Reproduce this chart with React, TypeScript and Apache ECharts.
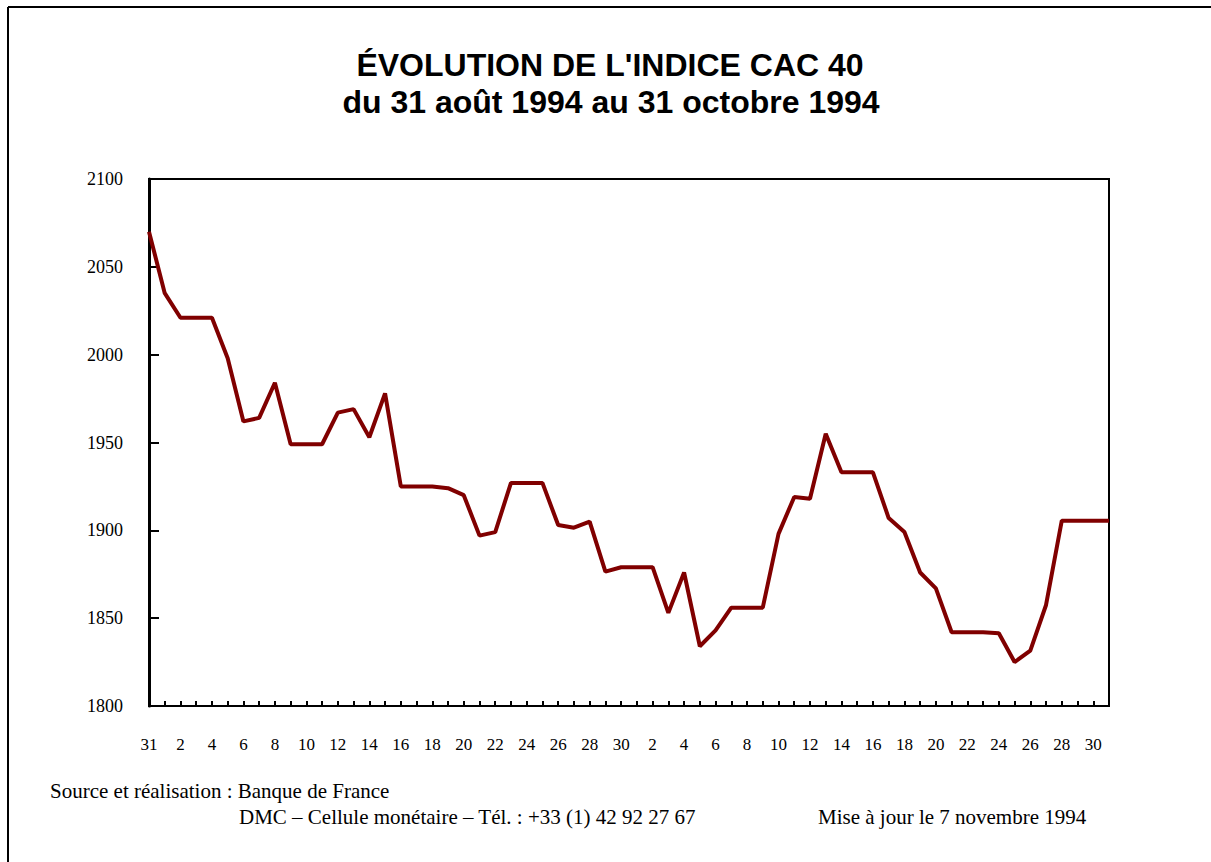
import React, { useEffect, useRef } from "react";
import * as echarts from "echarts";

const dayLabels: string[] = [
  "31",
  "1", "2", "3", "4", "5", "6", "7", "8", "9", "10",
  "11", "12", "13", "14", "15", "16", "17", "18", "19", "20",
  "21", "22", "23", "24", "25", "26", "27", "28", "29", "30",
  "1", "2", "3", "4", "5", "6", "7", "8", "9", "10",
  "11", "12", "13", "14", "15", "16", "17", "18", "19", "20",
  "21", "22", "23", "24", "25", "26", "27", "28", "29", "30", "31",
];

const cacValues: number[] = [
  2070,
  2035, 2021, 2021, 2021, 1998, 1962, 1964, 1984, 1949, 1949,
  1949, 1967, 1969, 1953, 1978, 1925, 1925, 1925, 1924, 1920,
  1897, 1899, 1927, 1927, 1927, 1903, 1901.5, 1905, 1876.5, 1879,
  1879, 1879, 1853, 1876, 1834, 1843, 1856, 1856, 1856, 1898,
  1919, 1918, 1955, 1933, 1933, 1933, 1907, 1899, 1876, 1867,
  1842, 1842, 1842, 1841.4, 1825, 1831.5, 1857.5, 1905.5, 1905.5, 1905.5, 1905.5,
];

const yMin = 1800;
const yMax = 2100;
const yStep = 50;

const titleLine1 = "ÉVOLUTION DE L'INDICE CAC 40";
const titleLine2 = "du 31 août 1994 au 31 octobre 1994";
const sourceLine = "Source et réalisation : Banque de France";
const contactLine = "DMC – Cellule monétaire – Tél. : +33 (1) 42 92 27 67";
const updateLine = "Mise à jour le 7 novembre 1994";

const serif = "'Liberation Serif', 'Times New Roman', serif";
const sans = "'Liberation Sans', Arial, sans-serif";

export default function App() {
  const ref = useRef<HTMLDivElement>(null);

  useEffect(() => {
    if (!ref.current) return;
    const chart = echarts.init(ref.current, null, { renderer: "svg" });
    chart.setOption({
      animation: false,
      backgroundColor: "#ffffff",
      grid: {
        left: 149,
        right: 102,
        top: 179,
        bottom: 156,
        show: true,
        borderColor: "#000",
        borderWidth: 2,
      },
      xAxis: {
        type: "category",
        data: dayLabels,
        boundaryGap: false,
        axisLine: { lineStyle: { color: "#000", width: 2 } },
        axisTick: { inside: true, length: 5, interval: 0, lineStyle: { color: "#000", width: 2 } },
        axisLabel: {
          interval: 1,
          margin: 30,
          color: "#000",
          fontFamily: serif,
          fontSize: 17,
        },
        splitLine: { show: false },
      },
      yAxis: {
        type: "value",
        min: yMin,
        max: yMax,
        interval: yStep,
        axisLine: { show: true, lineStyle: { color: "#000", width: 3 } },
        axisTick: { show: true, inside: true, length: 10, lineStyle: { color: "#000", width: 2 } },
        axisLabel: {
          margin: 26,
          color: "#000",
          fontFamily: serif,
          fontSize: 18,
          formatter: (v: number) => String(v),
        },
        splitLine: { show: false },
      },
      series: [
        {
          type: "line",
          data: cacValues,
          symbol: "none",
          lineStyle: { color: "#800000", width: 4 },
          itemStyle: { color: "#800000" },
        },
      ],
      graphic: [
        { type: "line", shape: { x1: 8, y1: 7, x2: 8, y2: 862 }, style: { stroke: "#000", lineWidth: 2 } },
        { type: "line", shape: { x1: 8, y1: 7, x2: 1211, y2: 7 }, style: { stroke: "#000", lineWidth: 2 } },
        {
          type: "text",
          x: 610,
          y: 65,
          style: {
            text: titleLine1,
            fill: "#000",
            font: `bold 32px ${sans}`,
            textAlign: "center",
            textVerticalAlign: "middle",
          },
        },
        {
          type: "text",
          x: 611,
          y: 102,
          style: {
            text: titleLine2,
            fill: "#000",
            font: `bold 32px ${sans}`,
            textAlign: "center",
            textVerticalAlign: "middle",
          },
        },
        {
          type: "text",
          x: 50,
          y: 791,
          style: { text: sourceLine, fill: "#000", font: `21px ${serif}`, textAlign: "left", textVerticalAlign: "middle" },
        },
        {
          type: "text",
          x: 239,
          y: 817,
          style: { text: contactLine, fill: "#000", font: `21px ${serif}`, textAlign: "left", textVerticalAlign: "middle" },
        },
        {
          type: "text",
          x: 818,
          y: 817,
          style: { text: updateLine, fill: "#000", font: `21px ${serif}`, textAlign: "left", textVerticalAlign: "middle" },
        },
      ],
    });
    return () => chart.dispose();
  }, []);

  return (
    <div
      ref={ref}
      style={{ position: "absolute", left: 0, top: 0, width: 1211, height: 862, background: "#fff" }}
    />
  );
}
